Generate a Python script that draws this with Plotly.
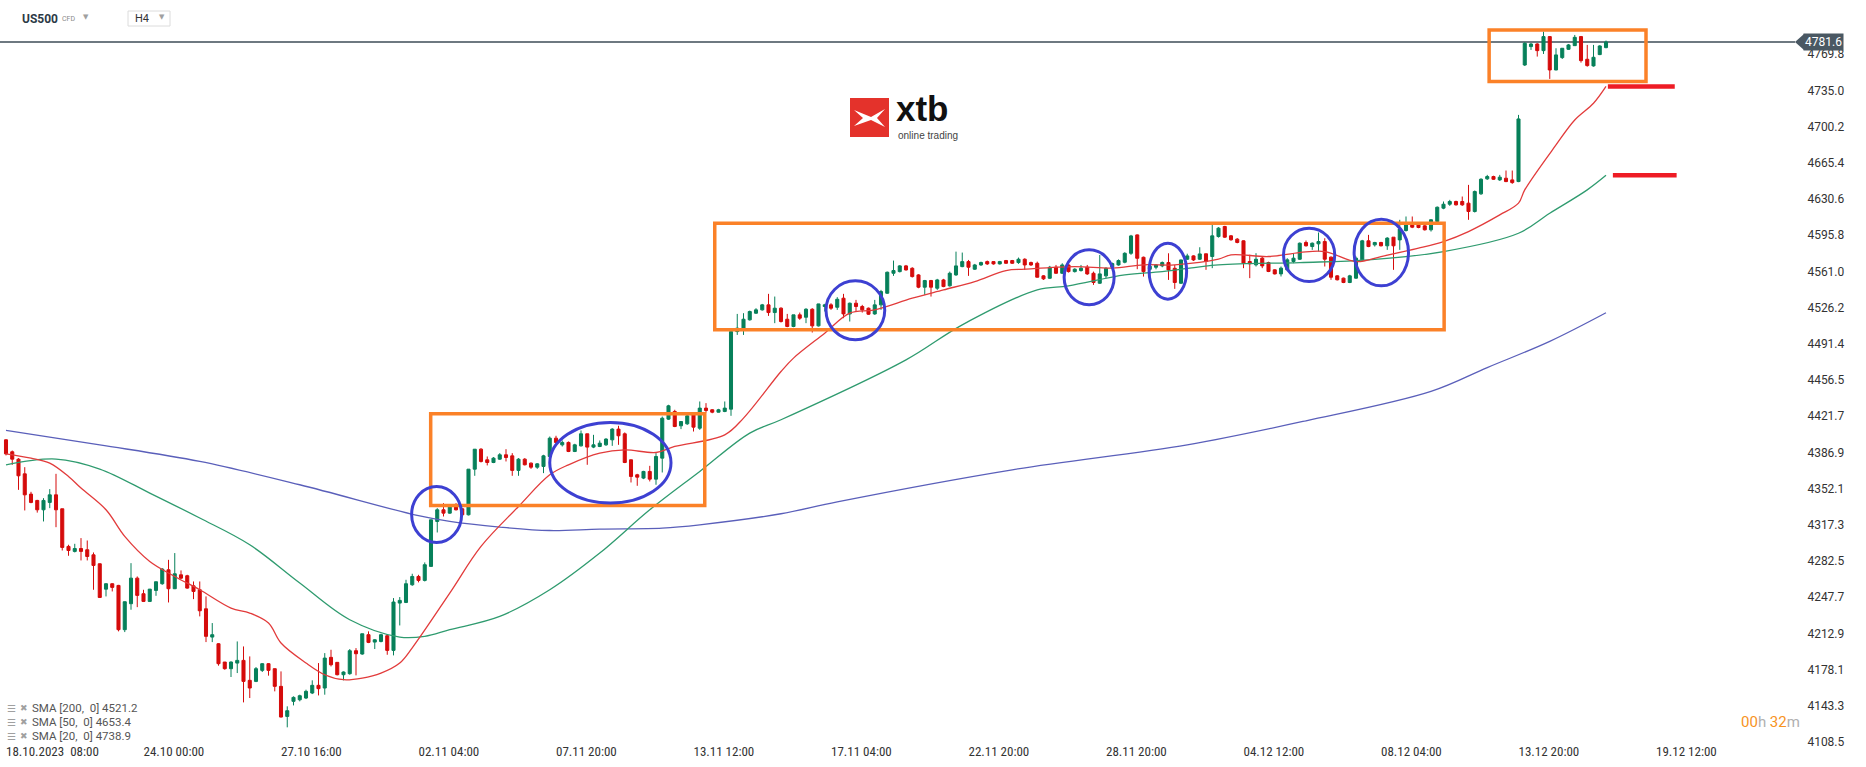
import plotly.graph_objects as go

# ---- candles (H4 bars, oldest first) ----
opens = [
    4399.0, 4387.5, 4380.4, 4366.3, 4346.8, 4340.7, 4331.7, 4338.8, 4346.1, 4332.7,
    4296.5, 4291.7, 4294.5, 4293.3, 4288.4, 4279.8, 4255.4, 4260.6, 4259.0, 4216.4,
    4241.4, 4266.0, 4251.0, 4243.6, 4254.2, 4260.6, 4274.0, 4255.8, 4269.2, 4268.3,
    4258.6, 4254.8, 4236.5, 4209.3, 4202.9, 4185.3, 4178.9, 4184.3, 4186.9, 4167.7,
    4166.7, 4177.3, 4183.7, 4178.9, 4161.9, 4133.0, 4147.5, 4149.0, 4150.7, 4155.5,
    4162.9, 4160.3, 4189.8, 4185.0, 4173.1, 4174.1, 4196.2, 4193.0, 4211.6, 4204.5,
    4205.1, 4210.6, 4196.5, 4242.0, 4242.6, 4259.6, 4267.6, 4263.8, 4277.3, 4320.5,
    4331.7, 4328.5, 4334.3, 4332.7, 4326.9, 4370.8, 4390.0, 4379.8, 4377.2, 4380.4,
    4384.6, 4383.6, 4369.6, 4380.4, 4376.6, 4372.7, 4373.4, 4383.0, 4400.6, 4394.2,
    4396.5, 4387.8, 4393.2, 4404.8, 4392.0, 4392.6, 4394.2, 4399.0, 4409.3, 4404.8,
    4379.8, 4365.4, 4362.2, 4368.6, 4361.2, 4381.4, 4418.9, 4426.3, 4412.5, 4414.4,
    4423.0, 4410.2, 4429.5, 4427.9, 4425.6, 4426.3, 4428.5, 4503.1, 4506.4, 4514.4,
    4520.8, 4524.0, 4528.8, 4521.4, 4525.6, 4515.0, 4508.0, 4519.2, 4516.9, 4524.6,
    4508.6, 4527.2, 4528.8, 4526.5, 4535.2, 4520.1, 4530.4, 4527.2, 4525.6, 4520.1,
    4528.8, 4540.0, 4559.2, 4560.8, 4566.3, 4564.0, 4557.6, 4545.8, 4552.2, 4544.8,
    4552.8, 4547.1, 4557.6, 4565.6, 4570.4, 4563.1, 4567.2, 4570.4, 4570.4, 4568.2,
    4571.4, 4571.4, 4569.5, 4572.7, 4569.5, 4568.8, 4556.7, 4554.4, 4565.0, 4559.2,
    4567.2, 4560.8, 4561.8, 4565.0, 4559.2, 4549.6, 4556.7, 4565.0, 4567.2, 4569.8,
    4578.4, 4596.1, 4574.6, 4563.0, 4565.0, 4566.3, 4569.5, 4564.0, 4549.6, 4572.7,
    4575.9, 4572.7, 4577.9, 4575.3, 4594.5, 4604.2, 4595.2, 4592.0, 4590.4, 4570.5,
    4567.3, 4573.7, 4569.5, 4562.5, 4558.6, 4562.5, 4570.5, 4572.7, 4588.8, 4584.9,
    4587.5, 4589.7, 4574.7, 4556.7, 4554.5, 4550.3, 4554.5, 4572.1, 4590.4, 4586.5,
    4588.8, 4585.6, 4593.9, 4591.3, 4600.3, 4606.7, 4606.7, 4604.8, 4601.0, 4609.0,
    4621.8, 4625.6, 4628.2, 4628.2, 4626.6, 4618.6, 4635.6, 4650.0, 4652.2, 4649.0,
    4650.6, 4649.0, 4647.4, 4759.5, 4777.2, 4779.7, 4773.3, 4786.8, 4754.7, 4766.6,
    4774.6, 4778.1, 4786.8, 4765.0, 4758.6, 4769.5, 4776.2,
]
highs = [
    4399.5, 4388.7, 4381.4, 4372.7, 4349.0, 4341.3, 4342.9, 4351.6, 4366.3, 4332.7,
    4298.1, 4299.0, 4304.5, 4302.2, 4290.7, 4280.0, 4261.2, 4261.0, 4259.5, 4243.5,
    4280.4, 4267.6, 4254.8, 4255.6, 4262.7, 4275.6, 4283.6, 4290.1, 4273.4, 4269.2,
    4262.8, 4262.8, 4248.4, 4222.8, 4203.5, 4185.3, 4185.9, 4205.1, 4200.3, 4190.7,
    4180.5, 4184.3, 4184.3, 4179.0, 4176.3, 4142.7, 4152.3, 4153.9, 4158.7, 4167.7,
    4184.3, 4193.9, 4197.1, 4185.0, 4176.3, 4197.8, 4198.7, 4212.5, 4214.8, 4207.4,
    4212.5, 4211.6, 4246.8, 4247.8, 4264.4, 4270.2, 4269.2, 4281.1, 4322.1, 4333.3,
    4338.1, 4335.6, 4338.1, 4333.3, 4370.8, 4390.1, 4391.0, 4383.0, 4382.4, 4386.2,
    4390.0, 4386.2, 4381.4, 4381.4, 4377.2, 4376.6, 4384.6, 4402.2, 4402.9, 4398.4,
    4397.4, 4395.2, 4408.0, 4404.8, 4403.8, 4398.4, 4400.6, 4410.2, 4412.5, 4406.1,
    4380.0, 4366.3, 4369.2, 4374.0, 4386.2, 4421.4, 4432.7, 4427.9, 4416.6, 4423.0,
    4425.3, 4435.9, 4434.3, 4428.5, 4428.8, 4435.9, 4503.1, 4520.1, 4520.8, 4523.3,
    4525.6, 4529.7, 4539.4, 4536.8, 4526.5, 4520.1, 4519.2, 4521.4, 4525.6, 4525.6,
    4529.8, 4529.8, 4530.4, 4536.2, 4539.4, 4531.0, 4533.6, 4528.8, 4526.2, 4533.6,
    4543.2, 4560.8, 4571.4, 4567.0, 4567.2, 4565.0, 4558.3, 4552.8, 4552.8, 4553.8,
    4553.8, 4560.8, 4580.0, 4579.1, 4572.0, 4568.2, 4570.4, 4571.4, 4571.0, 4571.1,
    4572.0, 4572.0, 4574.3, 4573.6, 4570.4, 4570.4, 4557.3, 4566.3, 4567.2, 4568.8,
    4568.2, 4564.0, 4567.2, 4567.2, 4560.8, 4576.8, 4565.0, 4569.5, 4572.5, 4579.4,
    4596.1, 4596.5, 4575.2, 4568.0, 4568.0, 4570.5, 4578.4, 4567.2, 4572.3, 4578.0,
    4576.5, 4584.2, 4578.0, 4605.8, 4603.5, 4604.8, 4596.0, 4593.0, 4590.8, 4577.0,
    4578.5, 4575.3, 4570.3, 4563.0, 4565.7, 4573.7, 4578.5, 4588.8, 4590.7, 4588.8,
    4598.4, 4592.9, 4575.3, 4557.3, 4555.0, 4557.7, 4575.3, 4591.3, 4596.1, 4589.4,
    4589.4, 4593.9, 4594.0, 4610.6, 4613.8, 4613.8, 4608.0, 4605.5, 4611.2, 4623.4,
    4628.2, 4629.8, 4629.0, 4633.0, 4644.2, 4638.8, 4650.6, 4653.8, 4653.0, 4653.8,
    4658.0, 4658.0, 4711.5, 4781.4, 4780.6, 4780.4, 4791.6, 4787.0, 4775.6, 4775.8,
    4779.7, 4788.4, 4787.4, 4778.8, 4778.8, 4778.5, 4783.0,
]
lows = [
    4384.0, 4375.0, 4350.9, 4331.1, 4338.0, 4329.0, 4320.5, 4333.3, 4315.0, 4292.6,
    4287.5, 4290.7, 4283.0, 4283.0, 4254.8, 4247.0, 4248.4, 4253.2, 4214.8, 4214.1,
    4235.6, 4238.1, 4243.0, 4243.0, 4249.0, 4259.6, 4242.6, 4255.5, 4265.0, 4255.8,
    4245.8, 4229.2, 4204.5, 4204.5, 4181.8, 4177.9, 4170.9, 4174.7, 4146.5, 4150.7,
    4166.0, 4175.7, 4172.2, 4157.1, 4132.0, 4122.5, 4143.6, 4147.5, 4149.7, 4154.5,
    4153.2, 4153.9, 4181.1, 4172.5, 4167.7, 4173.1, 4172.5, 4192.3, 4203.5, 4197.8,
    4204.2, 4192.3, 4191.7, 4220.5, 4242.0, 4258.6, 4261.9, 4262.8, 4277.0, 4309.9,
    4325.3, 4327.9, 4331.1, 4326.3, 4326.3, 4364.4, 4377.2, 4374.4, 4376.6, 4379.8,
    4378.2, 4364.4, 4364.4, 4374.4, 4371.1, 4371.1, 4367.0, 4382.4, 4395.8, 4392.6,
    4387.2, 4387.2, 4392.6, 4375.0, 4391.0, 4392.0, 4393.2, 4393.2, 4394.2, 4376.6,
    4358.0, 4354.8, 4361.2, 4359.0, 4355.8, 4367.6, 4418.2, 4411.2, 4409.3, 4413.4,
    4407.0, 4408.6, 4425.3, 4424.6, 4425.3, 4425.6, 4422.1, 4499.9, 4499.9, 4513.7,
    4520.1, 4523.3, 4518.2, 4511.2, 4511.8, 4507.3, 4507.3, 4514.4, 4511.2, 4502.2,
    4508.0, 4522.4, 4524.0, 4524.0, 4516.0, 4512.8, 4522.4, 4521.4, 4519.2, 4519.2,
    4524.0, 4539.4, 4556.7, 4560.0, 4561.8, 4555.1, 4544.8, 4538.4, 4536.8, 4543.2,
    4545.8, 4546.4, 4556.7, 4565.0, 4556.7, 4562.4, 4566.3, 4567.2, 4567.5, 4567.6,
    4568.2, 4568.2, 4568.2, 4562.4, 4566.3, 4555.1, 4552.8, 4553.8, 4558.6, 4558.6,
    4559.9, 4559.9, 4560.8, 4557.6, 4548.0, 4549.0, 4554.4, 4563.5, 4566.5, 4568.8,
    4576.9, 4563.1, 4556.0, 4561.0, 4563.0, 4565.0, 4552.8, 4544.2, 4549.0, 4572.0,
    4571.0, 4572.0, 4562.5, 4564.1, 4593.5, 4593.2, 4590.5, 4588.0, 4564.1, 4554.5,
    4565.7, 4564.1, 4560.3, 4558.0, 4556.1, 4561.9, 4568.9, 4572.1, 4584.9, 4581.7,
    4580.1, 4565.7, 4552.9, 4552.3, 4549.7, 4549.7, 4553.8, 4571.5, 4584.3, 4584.9,
    4585.0, 4581.7, 4562.5, 4581.7, 4599.3, 4602.6, 4602.5, 4600.3, 4599.3, 4608.0,
    4620.8, 4624.0, 4624.3, 4624.0, 4610.6, 4617.6, 4634.6, 4649.0, 4649.0, 4648.0,
    4646.8, 4645.2, 4646.8, 4758.5, 4774.0, 4767.6, 4770.1, 4746.1, 4754.5, 4765.3,
    4774.0, 4777.8, 4761.8, 4757.9, 4757.9, 4769.0, 4775.6,
]
closes = [
    4385.5, 4380.4, 4364.4, 4346.1, 4338.8, 4331.7, 4340.7, 4346.1, 4331.7, 4295.5,
    4292.6, 4294.5, 4291.7, 4286.8, 4278.2, 4247.4, 4260.6, 4257.1, 4216.4, 4243.3,
    4266.0, 4249.4, 4243.6, 4255.4, 4262.5, 4274.7, 4255.8, 4270.2, 4266.0, 4256.4,
    4253.2, 4234.6, 4210.0, 4211.6, 4183.7, 4178.9, 4185.3, 4186.9, 4166.7, 4160.3,
    4178.9, 4183.7, 4177.3, 4161.9, 4132.4, 4138.5, 4151.3, 4152.9, 4157.1, 4162.9,
    4159.7, 4189.1, 4182.7, 4173.1, 4175.7, 4196.2, 4193.3, 4212.5, 4204.2, 4206.7,
    4211.6, 4196.5, 4243.0, 4244.6, 4260.6, 4267.6, 4263.8, 4278.9, 4322.1, 4331.7,
    4328.5, 4334.3, 4331.7, 4326.9, 4370.8, 4390.0, 4378.2, 4377.2, 4381.4, 4384.6,
    4382.0, 4369.6, 4380.4, 4375.0, 4372.7, 4375.9, 4383.6, 4400.6, 4396.5, 4396.5,
    4387.8, 4394.2, 4404.8, 4392.0, 4394.2, 4395.8, 4399.7, 4409.3, 4402.9, 4377.2,
    4363.8, 4363.1, 4368.6, 4361.2, 4383.0, 4419.8, 4431.7, 4411.8, 4416.6, 4422.1,
    4411.2, 4429.5, 4427.2, 4425.6, 4427.9, 4429.5, 4503.1, 4506.4, 4515.0, 4522.4,
    4524.0, 4528.8, 4521.4, 4525.6, 4512.8, 4508.0, 4519.2, 4516.0, 4524.6, 4508.6,
    4529.7, 4528.8, 4525.6, 4534.2, 4520.1, 4530.4, 4527.2, 4524.0, 4519.8, 4528.8,
    4541.6, 4560.2, 4561.8, 4566.3, 4562.4, 4556.0, 4545.8, 4552.2, 4545.8, 4552.8,
    4546.4, 4559.2, 4566.3, 4570.4, 4565.0, 4567.2, 4569.5, 4568.2, 4568.2, 4570.4,
    4568.8, 4568.8, 4572.7, 4567.2, 4567.2, 4555.4, 4553.8, 4565.0, 4559.2, 4567.2,
    4560.8, 4563.1, 4564.0, 4558.6, 4550.3, 4558.6, 4564.0, 4568.5, 4571.4, 4578.4,
    4595.1, 4573.6, 4560.8, 4566.0, 4567.2, 4569.5, 4562.4, 4550.3, 4572.0, 4575.9,
    4572.0, 4577.8, 4570.5, 4595.2, 4602.6, 4593.9, 4591.4, 4588.8, 4568.9, 4568.3,
    4572.7, 4566.3, 4560.9, 4558.6, 4564.1, 4572.1, 4573.7, 4588.1, 4585.6, 4588.1,
    4589.7, 4572.7, 4555.4, 4552.9, 4550.3, 4556.7, 4573.7, 4590.4, 4584.9, 4588.8,
    4585.6, 4593.0, 4585.6, 4601.6, 4606.7, 4603.5, 4603.2, 4601.0, 4610.6, 4622.7,
    4625.6, 4628.2, 4625.0, 4625.0, 4618.6, 4637.8, 4649.6, 4652.2, 4649.6, 4651.6,
    4647.4, 4646.4, 4707.6, 4780.4, 4779.7, 4773.3, 4786.8, 4754.7, 4769.2, 4775.6,
    4778.8, 4786.1, 4763.7, 4758.9, 4766.9, 4777.8, 4781.6,
]
bars = list(range(len(closes)))

# ---- moving averages: (bar, value) ----
sma20_bar = [0, 4, 7, 10, 12, 16, 19, 23, 27, 31, 36, 39, 42, 44, 48, 51, 54, 57, 60, 63,
             65, 71, 76, 82, 87, 90, 95, 99, 104, 107, 115, 118, 124, 126, 131, 135, 139,
             145, 150, 155, 160, 163, 171, 177, 182, 187, 194, 196, 202, 207, 211, 216,
             220, 226, 230, 234, 239, 242, 243, 248, 251, 254, 256]
sma20_val = [4385.6, 4381.4, 4376.6, 4363.8, 4352.6, 4331.7, 4306.1, 4282.0, 4267.6, 4254.8,
             4237.2, 4232.4, 4222.8, 4203.6, 4184.4, 4173.1, 4168.3, 4169.9, 4174.7, 4184.4,
             4199.0, 4251.6, 4296.5, 4334.9, 4365.4, 4375.0, 4386.2, 4389.4, 4386.8, 4392.6,
             4403.8, 4419.9, 4464.7, 4477.6, 4501.6, 4520.8, 4524.0, 4535.2, 4543.2, 4551.2,
             4561.8, 4563.1, 4565.6, 4564.1, 4567.3, 4567.3, 4572.7, 4576.9, 4575.3, 4579.1,
             4580.1, 4570.4, 4575.3, 4583.3, 4589.7, 4599.3, 4615.3, 4626.6, 4639.4, 4682.6,
             4706.6, 4722.7, 4738.9]
sma50_bar = [0, 8, 15, 23, 31, 39, 47, 55, 63, 67, 71, 79, 87, 95, 103, 111, 119, 124, 144,
             153, 165, 170, 179, 185, 194, 207, 218, 230, 242, 247, 253, 256]
sma50_val = [4375.0, 4380.5, 4370.9, 4347.8, 4323.8, 4298.1, 4261.3, 4226.0, 4209.3, 4210.0,
             4216.4, 4229.2, 4254.8, 4290.1, 4331.7, 4368.6, 4405.5, 4418.3, 4475.9, 4509.6,
             4543.2, 4547.1, 4557.6, 4560.8, 4567.3, 4569.5, 4572.1, 4580.1, 4597.7, 4616.9,
             4639.4, 4653.4]
sma200_bar = [0, 15, 31, 47, 66, 71, 79, 87, 95, 105, 111, 124, 133, 161, 189, 208, 228,
              237, 247, 256]
sma200_val = [4408.2, 4394.2, 4378.2, 4355.8, 4326.0, 4320.5, 4315.1, 4311.8, 4313.2, 4314.1,
              4317.3, 4327.9, 4339.4, 4370.2, 4394.2, 4417.3, 4445.6, 4468.5, 4493.7, 4521.2]

last_price = 4781.6

# ---- axes ----
price_ticks = [4108.5, 4143.3, 4178.1, 4212.9, 4247.7, 4282.5, 4317.3, 4352.1, 4386.9,
               4421.7, 4456.5, 4491.4, 4526.2, 4561.0, 4595.8, 4630.6, 4665.4, 4700.2,
               4735.0, 4769.8]
time_labels = ["18.10.2023\u00a0\u00a008:00", "24.10 00:00", "27.10 16:00", "02.11 04:00",
               "07.11 20:00", "13.11 12:00", "17.11 04:00", "22.11 20:00", "28.11 20:00",
               "04.12 12:00", "08.12 04:00", "13.12 20:00", "19.12 12:00"]
bars_per_label = 22

# ---- markup drawn on the chart: (bar0, bar1, price0, price1) ----
orange_boxes = [(67.95, 111.8, 4335.9, 4424.0),
                (113.4, 230.1, 4504.8, 4607.3),
                (237.3, 262.4, 4743.5, 4793.2)]
blue_rings = [(64.9, 72.9, 4300.3, 4354.1),
              (87.0, 106.4, 4338.2, 4415.7),
              (131.2, 140.6, 4495.2, 4551.9),
              (169.3, 177.3, 4528.8, 4581.7),
              (182.9, 188.9, 4534.3, 4588.1),
              (204.4, 212.6, 4551.2, 4602.5),
              (215.7, 224.4, 4547.1, 4611.2)]

GREEN = "#07805a"
RED = "#d50b0b"
PW, PH = 1795, 742  # plot area in px


def px(x):
    return x / PW


def py(y):
    return 1 - y / PH


fig = go.Figure()
fig.add_trace(go.Scatter(x=sma200_bar, y=sma200_val, mode="lines",
                         line=dict(color="#5a5fba", width=1.3, shape="spline"), hoverinfo="skip"))
fig.add_trace(go.Scatter(x=sma50_bar, y=sma50_val, mode="lines",
                         line=dict(color="#2f9b6f", width=1.3, shape="spline"), hoverinfo="skip"))
fig.add_trace(go.Scatter(x=sma20_bar, y=sma20_val, mode="lines",
                         line=dict(color="#e23b3b", width=1.3, shape="spline"), hoverinfo="skip"))
fig.add_trace(go.Candlestick(
    x=bars, open=opens, high=highs, low=lows, close=closes,
    increasing=dict(line=dict(color=GREEN, width=1), fillcolor=GREEN),
    decreasing=dict(line=dict(color=RED, width=1), fillcolor=RED),
    whiskerwidth=0,
))

shapes = []
# current price line
shapes.append(dict(type="line", xref="paper", yref="y", x0=0, x1=1, y0=last_price, y1=last_price,
                   line=dict(color="#3e4c57", width=1.5), layer="below"))
for b0, b1, p0, p1 in orange_boxes:
    shapes.append(dict(type="rect", xref="x", yref="y", x0=b0, x1=b1, y0=p0, y1=p1,
                       line=dict(color="#fb8128", width=3.5)))
for b0, b1, p0, p1 in blue_rings:
    shapes.append(dict(type="circle", xref="x", yref="y", x0=b0, x1=b1, y0=p0, y1=p1,
                       line=dict(color="#3d40d2", width=3)))
# red level marks at the last SMA20 / SMA50 values
shapes.append(dict(type="line", xref="x", yref="y", x0=256.3, x1=267.0,
                   y0=sma20_val[-1], y1=sma20_val[-1], line=dict(color="#ee1c25", width=4.5)))
shapes.append(dict(type="line", xref="x", yref="y", x0=257.1, x1=267.3,
                   y0=sma50_val[-1], y1=sma50_val[-1], line=dict(color="#ee1c25", width=4.5)))
# price tag arrow
shapes.append(dict(type="path", xref="paper", yref="y", xsizemode="pixel", ysizemode="pixel",
                   xanchor=1, yanchor=last_price, path="M0,0 L9,8 L9,-8 Z",
                   fillcolor="#4a5863", line=dict(width=0)))
# H4 selector box
shapes.append(dict(type="rect", xref="paper", yref="paper", x0=px(128), x1=px(170),
                   y0=py(26), y1=py(11), line=dict(color="#dcdcdc", width=1), fillcolor="white"))
# logo square + mark
shapes.append(dict(type="rect", xref="paper", yref="paper", x0=px(850), x1=px(889),
                   y0=py(137), y1=py(98), line=dict(width=0), fillcolor="#e4322b"))
logo_pts = [(854, 110), (871, 117), (885, 109), (877, 118), (885, 127), (871, 120), (854, 126), (863, 118)]
path = "M" + " L".join(f"{px(a):.5f},{py(b):.5f}" for a, b in logo_pts) + " Z"
shapes.append(dict(type="path", xref="paper", yref="paper", path=path,
                   fillcolor="white", line=dict(width=0)))

annotations = [
    dict(xref="paper", yref="paper", x=px(20), y=py(19), xanchor="left", yanchor="middle",
         text="<b>US500</b>", showarrow=False, font=dict(family="Roboto", size=12, color="#2c3a46")),
    dict(xref="paper", yref="paper", x=px(60), y=py(19), xanchor="left", yanchor="middle",
         text="CFD", showarrow=False, font=dict(family="Roboto", size=7, color="#8a8a8a")),
    dict(xref="paper", yref="paper", x=px(86), y=py(17), xanchor="center", yanchor="middle",
         text="▼", showarrow=False, font=dict(family="DejaVu Sans", size=7, color="#a0a0a0")),
    dict(xref="paper", yref="paper", x=px(133), y=py(19), xanchor="left", yanchor="middle",
         text="H4", showarrow=False, font=dict(family="Roboto", size=11, color="#333333")),
    dict(xref="paper", yref="paper", x=px(162), y=py(17), xanchor="center", yanchor="middle",
         text="▼", showarrow=False, font=dict(family="DejaVu Sans", size=7, color="#a0a0a0")),
    dict(xref="paper", yref="paper", x=px(895), y=py(109), xanchor="left", yanchor="middle",
         text="<b>xtb</b>", showarrow=False, borderpad=0,
         font=dict(family="Liberation Sans, Arial", size=35, color="#111111")),
    dict(xref="paper", yref="paper", x=px(897), y=py(135.5), xanchor="left", yanchor="middle",
         text="online trading", showarrow=False, borderpad=0,
         font=dict(family="Liberation Sans, Arial", size=10, color="#444444")),
    dict(xref="paper", yref="y", x=px(1803), y=last_price, xanchor="left", yanchor="middle",
         text="4781.6", showarrow=False, bgcolor="#4a5863", borderpad=1,
         font=dict(family="Roboto", size=12, color="white")),
    dict(xref="paper", yref="paper", x=px(1770), y=py(722), xanchor="center", yanchor="middle",
         text="<span style='color:#f7931e'>00</span><span style='color:#b0b0b0'>h </span>"
              "<span style='color:#f7931e'>32</span><span style='color:#b0b0b0'>m</span>",
         showarrow=False, font=dict(family="Roboto", size=15)),
]
legend_rows = [("SMA [200,  0]", sma200_val[-1]), ("SMA [50,  0]", sma50_val[-1]),
               ("SMA [20,  0]", sma20_val[-1])]
for k, (name, val) in enumerate(legend_rows):
    yy = 708 + 14 * k
    annotations.append(dict(xref="paper", yref="paper", x=px(5), y=py(yy), xanchor="left",
                            yanchor="middle", text="☰", showarrow=False,
                            font=dict(family="DejaVu Sans", size=10, color="#a0a0a0")))
    annotations.append(dict(xref="paper", yref="paper", x=px(18), y=py(yy), xanchor="left",
                            yanchor="middle", text="✖", showarrow=False,
                            font=dict(family="DejaVu Sans", size=9, color="#a0a0a0")))
    annotations.append(dict(xref="paper", yref="paper", x=px(30), y=py(yy), xanchor="left",
                            yanchor="middle", text=f"{name} {val:.1f}", showarrow=False,
                            font=dict(family="Roboto", size=11.5, color="#555555")))

fig.update_layout(
    width=1866, height=767,
    paper_bgcolor="white", plot_bgcolor="white",
    margin=dict(l=0, r=71, t=0, b=25),
    showlegend=False,
    shapes=shapes,
    annotations=annotations,
    xaxis=dict(
        range=[-0.96, 286.24], rangeslider=dict(visible=False),
        showgrid=False, zeroline=False, showline=False,
        tickvals=[k * bars_per_label for k in range(len(time_labels))],
        ticktext=time_labels, ticklabelposition="outside right",
        ticks="", tickfont=dict(family="Liberation Sans Narrow, Roboto Condensed, Roboto",
                                size=13, color="#333333"),
    ),
    yaxis=dict(
        range=[4108.4, 4822.0], side="right", showgrid=False, zeroline=False, showline=False,
        tickvals=price_ticks, ticktext=[f"{v:.1f}" for v in price_ticks],
        ticks="outside", ticklen=9, tickcolor="rgba(0,0,0,0)",
        tickfont=dict(family="Roboto", size=12, color="#333333"),
    ),
)

fig.write_html("out.html", config={"displayModeBar": False},
               post_script="document.body.style.margin='0';")
